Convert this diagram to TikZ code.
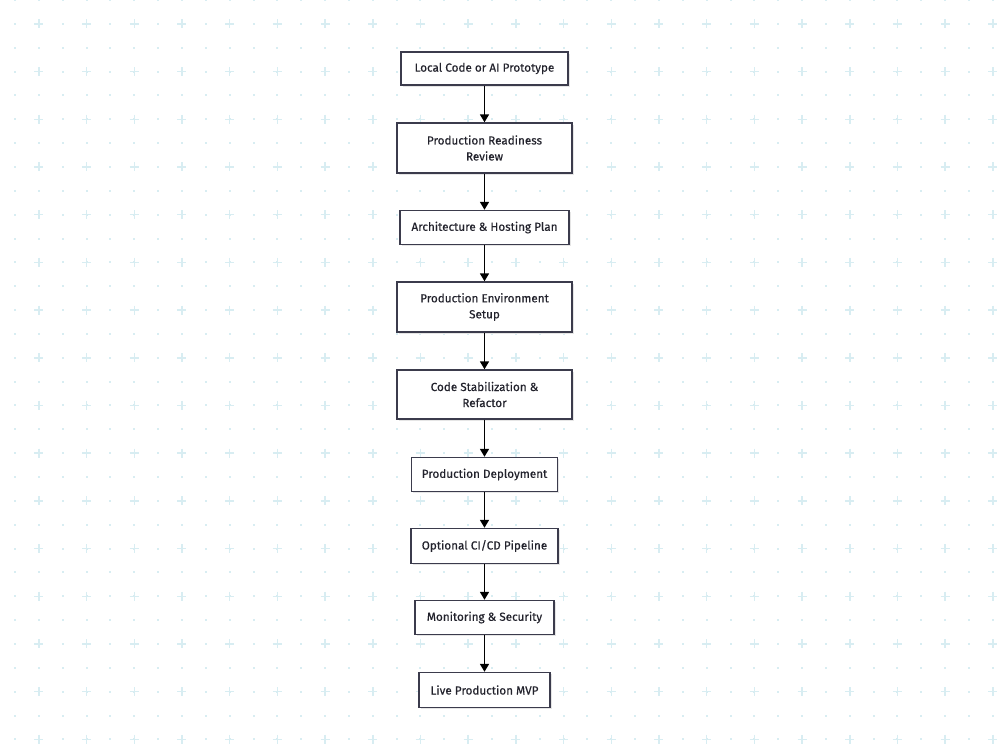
\documentclass[tikz,border=0pt]{standalone}
\usepackage{fontspec}
\setmainfont{Fira Sans}
\newfontfamily\stagefont{Fira Sans}[FakeBold=0.4]
\usepackage{tikz}
\usetikzlibrary{arrows.meta,positioning,shadows}
\definecolor{gridblue}{HTML}{D8EDF2}
\definecolor{boxline}{HTML}{3B3B4C}
\definecolor{textdark}{HTML}{22222C}

\tikzset{
  stage/.style={draw=boxline,line width=1.4pt,fill=white,align=center,
    inner sep=0pt,font=\stagefont\fontsize{11.7}{16}\selectfont,text=textdark,
    drop shadow={shadow xshift=1.5pt,shadow yshift=-1.5pt,fill=black!10,opacity=1}},
  flow/.style={line width=1.6pt,-{Triangle[length=8pt,width=9pt]}}
}

\begin{document}
\begin{tikzpicture}[x=1pt,y=-1pt]
        \useasboundingbox (0,0) rectangle (1000,750);
        \fill[white] (0,0) rectangle (1000,750);
        % background grid
        \foreach \i in {0,...,41}{
          \foreach \j in {0,...,31}{
            \fill[gridblue] ({15+23.85*\i-1},{23.85*\j-1}) rectangle ++(2,2);}}
        \foreach \i in {1,3,...,41}{
          \foreach \j in {1,3,...,31}{
            \draw[gridblue,line width=1.5pt] ({15+23.85*\i-4.5},{23.85*\j}) -- ++(9,0)
              ({15+23.85*\i},{23.85*\j-4.5}) -- ++(0,9);}}
        % stages
        \node[stage,minimum width=167pt,minimum height=33pt] (proto) at (484.5,68.5) {Local Code or AI Prototype};
        \node[stage,minimum width=175pt,minimum height=50pt] (review) at (484.5,148) {Production Readiness\\Review};
        \node[stage,minimum width=169pt,minimum height=34pt] (plan) at (484.5,227.5) {Architecture \& Hosting Plan};
        \node[stage,minimum width=175pt,minimum height=50pt] (env) at (484.5,307) {Production Environment\\Setup};
        \node[stage,minimum width=175pt,minimum height=49pt] (refactor) at (484.5,394.5) {Code Stabilization \&\\Refactor};
        \node[stage,minimum width=146pt,minimum height=34pt] (deploy) at (484.5,474.5) {Production Deployment};
        \node[stage,minimum width=147pt,minimum height=35pt] (cicd) at (484.5,546) {Optional CI/CD Pipeline};
        \node[stage,minimum width=139pt,minimum height=34pt] (monitor) at (484.5,617.5) {Monitoring \& Security};
        \node[stage,minimum width=131pt,minimum height=35pt] (mvp) at (484.5,690) {Live Production MVP};
        % connectors
        \foreach \a/\b in {proto/review,review/plan,plan/env,env/refactor,refactor/deploy,deploy/cicd,cicd/monitor,monitor/mvp}{
          \draw[flow] (\a) -- (\b);}
      \end{tikzpicture}
\end{document}
